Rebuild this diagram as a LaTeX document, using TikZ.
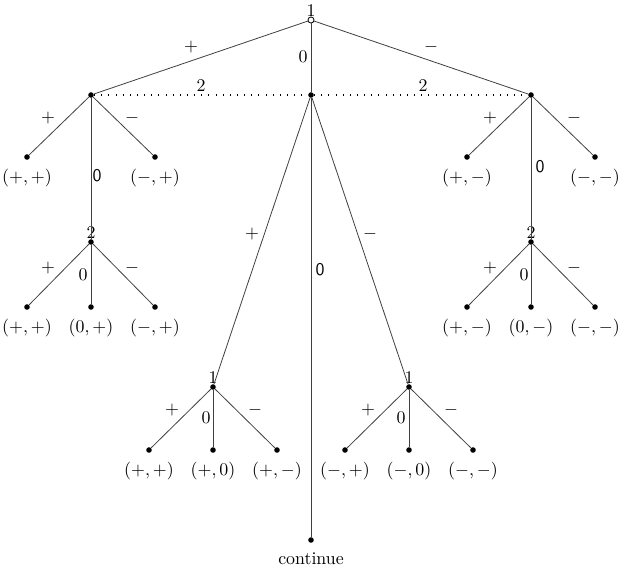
\documentclass[tikz,border=0pt]{standalone}
\usepackage{amsmath, amssymb}
\usepackage{tikz}

\begin{document}
\begin{tikzpicture}[x=0.56pt, y=-0.56pt,
    dot/.style={circle, fill, inner sep=0pt, minimum size=3.1pt},
    opendot/.style={circle, draw, fill=white, inner sep=0pt, minimum size=3.4pt, line width=0.45pt},
    branch/.style={draw=black!75, line width=0.45pt},
    tie/.style={line width=0.7pt, dash pattern=on 0.6pt off 3.4pt},
    leaf/.style={dot, label={[label distance=1.6pt]below:#1}}]
        \useasboundingbox (0,0) rectangle (621,574);
        % root and first level
        \node[opendot, label={[inner sep=0pt]above:$1$}] (root) at (311,20) {};
        \node[dot] (L) at (91,95) {};
        \node[dot] (C) at (311,95) {};
        \node[dot] (R) at (531,95) {};
        \draw[branch] (root) -- (L);
        \draw[branch] (root) -- (C);
        \draw[branch] (root) -- (R);
        \node (rootplus) at (191,47) {$+$};
        \node (rootzero) at (303,57) {$0$};
        \node (rootminus) at (431,47) {$-$};
        \draw[tie] (L) -- (C) -- (R);
        \node (tieL) at (201,86) {$2$};
        \node (tieR) at (423,86) {$2$};
        % left branch
        \node[leaf={$(+,+)$}] (Lp) at (27,157) {};
        \node[leaf={$(-,+)$}] (Lm) at (155,157) {};
        \node[dot, label={[inner sep=0pt]above:$2$}] (L2) at (91,242) {};
        \draw[branch] (L) -- (Lp);
        \draw[branch] (L) -- (Lm);
        \draw[branch] (L) -- (L2);
        \node (Lplus) at (48,118) {$+$};
        \node (Lminus) at (132,118) {$-$};
        \node (Lzero) at (97,176) {\textsf{0}};
        \node[leaf={$(+,+)$}] (L2p) at (27,307) {};
        \node[leaf={$(0,+)$}] (L2z) at (91,307) {};
        \node[leaf={$(-,+)$}] (L2m) at (155,307) {};
        \draw[branch] (L2) -- (L2p);
        \draw[branch] (L2) -- (L2z);
        \draw[branch] (L2) -- (L2m);
        \node (L2plus) at (48,268) {$+$};
        \node (L2zero) at (83,275) {$0$};
        \node (L2minus) at (132,268) {$-$};
        % right branch
        \node[leaf={$(+,-)$}] (Rp) at (467,157) {};
        \node[leaf={$(-,-)$}] (Rm) at (595,157) {};
        \node[dot, label={[inner sep=0pt]above:$2$}] (R2) at (531,242) {};
        \draw[branch] (R) -- (Rp);
        \draw[branch] (R) -- (Rm);
        \draw[branch] (R) -- (R2);
        \node (Rplus) at (490,118) {$+$};
        \node (Rminus) at (574,118) {$-$};
        \node (Rzero) at (540,167) {\textsf{0}};
        \node[leaf={$(+,-)$}] (R2p) at (467,307) {};
        \node[leaf={$(0,-)$}] (R2z) at (531,307) {};
        \node[leaf={$(-,-)$}] (R2m) at (595,307) {};
        \draw[branch] (R2) -- (R2p);
        \draw[branch] (R2) -- (R2z);
        \draw[branch] (R2) -- (R2m);
        \node (R2plus) at (490,268) {$+$};
        \node (R2zero) at (524,275) {$0$};
        \node (R2minus) at (574,268) {$-$};
        % centre branch
        \node[dot, label={[inner sep=0pt]above:$1$}] (C1) at (213,387) {};
        \node[dot, label={[inner sep=0pt]above:$1$}] (C2) at (409,387) {};
        \node[leaf={continue}] (Cc) at (311,540) {};
        \draw[branch] (C) -- (C1);
        \draw[branch] (C) -- (C2);
        \draw[branch] (C) -- (Cc);
        \node (Cplus) at (252,234) {$+$};
        \node (Cminus) at (370,234) {$-$};
        \node (Czero) at (320,270) {\textsf{0}};
        \node[leaf={$(+,+)$}] (C1p) at (149,450) {};
        \node[leaf={$(+,0)$}] (C1z) at (213,450) {};
        \node[leaf={$(+,-)$}] (C1m) at (277,450) {};
        \draw[branch] (C1) -- (C1p);
        \draw[branch] (C1) -- (C1z);
        \draw[branch] (C1) -- (C1m);
        \node (C1plus) at (172,410) {$+$};
        \node (C1zero) at (206,418) {$0$};
        \node (C1minus) at (255,410) {$-$};
        \node[leaf={$(-,+)$}] (C2p) at (345,450) {};
        \node[leaf={$(-,0)$}] (C2z) at (409,450) {};
        \node[leaf={$(-,-)$}] (C2m) at (473,450) {};
        \draw[branch] (C2) -- (C2p);
        \draw[branch] (C2) -- (C2z);
        \draw[branch] (C2) -- (C2m);
        \node (C2plus) at (368,410) {$+$};
        \node (C2zero) at (401,418) {$0$};
        \node (C2minus) at (451,410) {$-$};
      \end{tikzpicture}
\end{document}
